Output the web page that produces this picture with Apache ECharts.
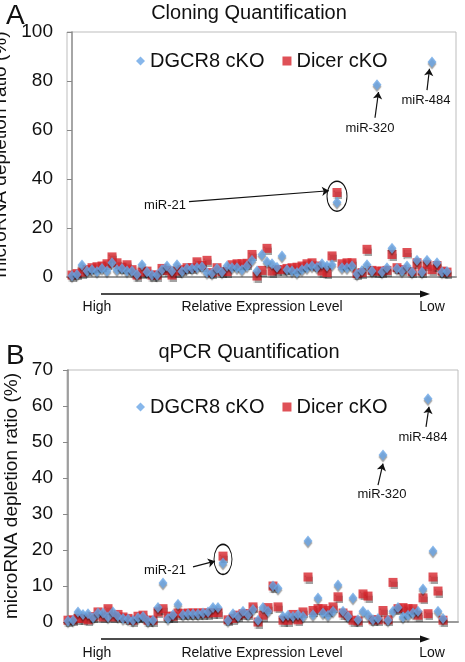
<!DOCTYPE html>
<html><head><meta charset="utf-8">
<script src="https://cdn.jsdelivr.net/npm/echarts@6/dist/echarts.min.js"></script>
<style>html,body{margin:0;padding:0;background:#fff}#c{width:465px;height:662px}</style>
</head><body><div id="c"></div>
<script>
// ---- Data ----
const seriesNames = ['DGCR8 cKO', 'Dicer cKO'];
const panelTitles = ['Cloning Quantification', 'qPCR Quantification'];
const yAxisTitle = 'microRNA depletion ratio (%)';
const xAxisWords = ['High', 'Relative Expression Level', 'Low'];

const cloningDGCR8 = [0.5,1.0,4.9,2.5,3,2.2,3.5,2.4,5.8,3,3.5,2.4,2.5,1.0,5,2.0,0.8,0.8,3,4.5,2.4,5,2.2,3.5,3.5,3.8,4.2,1.8,1.5,3.5,2.0,4.5,3.8,3.8,3,4.5,6.8,2.4,9.2,6.2,5.4,4.0,8.6,3.0,2.5,1.8,3,3.8,4.5,4.0,5.4,4.5,5,30.5,3.8,3.8,4.5,1.2,2.7,5,2.5,78.5,2.0,3.8,11.7,3.5,2.5,4.5,2.0,6.8,2.0,6.8,87.8,5.8,2.0,2.2];
const cloningDicer = [0.8,1.4,2.0,3,3.8,4.2,4.5,5.4,8.2,5.8,4,5,3,0.8,2,2.4,0.8,0.8,3.5,2.7,0.8,2.4,3.0,3.8,3.8,6.2,4.7,6.8,1.8,3.8,2.2,2.2,5,5.4,5.4,5.6,9.2,0.4,2.7,11.7,2.4,3.0,3,3.5,3.8,4,4.5,5.4,5.8,4.5,2.4,1.8,8.6,34.5,5.4,5.8,5.8,1.4,1.8,11.3,2.7,2.4,2.4,2.7,9.2,3.8,3,10,2.2,5.8,2.4,5,3,4.7,2.4,2.0];
const qpcrDGCR8 = [0.3,0.5,2.8,2.1,2.3,1.2,2.5,2.5,1.4,2.8,1.5,1.0,0.8,0.5,1.2,1.5,0.3,0.5,4.0,10.8,1.0,2.0,4.9,2.0,2.2,2.2,2.2,2.5,2.8,4.0,4.0,16.4,0.4,2.3,1.5,3.0,2.0,3.5,0.5,4.0,3.0,10.0,9.4,1.5,1.9,1.5,2.0,1.5,22.5,2.0,6.7,2.5,1.9,3.0,10.3,3.0,1.5,6.7,0.6,3.0,2.0,0.6,1.0,46.4,0.5,3.0,4.0,1.4,1.9,2.5,3.0,9.2,62.0,19.7,3.0,1.0];
const qpcrDicer = [0.5,0.6,1.0,1.0,0.6,1.5,2.8,1.4,3.7,1.4,2.1,1.4,1.0,0.5,1.6,1.9,0.5,0.5,2.8,3.7,1.6,1.6,2.5,2.3,2.5,2.5,2.5,2.5,2.5,2.6,2.6,18.3,0.6,1.0,1.9,2.3,2.3,4.2,0,1.9,4.0,10,4.2,0.5,0.5,2.1,0.6,2.8,12.5,3.2,3.7,3.7,3.2,4.2,7.0,2.5,1.9,0.5,0.3,7.8,7.2,0.6,0.6,3.2,0.6,11,3.7,4.0,3.7,3.7,1.9,6.7,2.3,12.5,8.6,0.5];

const yMaxA = 100, yStepA = 20;
const yMaxB = 70, yStepB = 10;

// ---- Build ----
const FONT = 'Liberation Sans, Arial, sans-serif';
const BLUE = '#69a5e6', RED = '#d7262d';
const toPts = arr => arr.map((v, i) => [i, v]);

const shadow = {shadowColor: 'rgba(0,0,0,0.45)', shadowBlur: 1, shadowOffsetY: 2};

function annotText(coord, text) {
  return {coord, symbol: 'circle', symbolSize: 1,
    itemStyle: {color: 'rgba(0,0,0,0)'},
    label: {show: true, position: 'inside', formatter: text, color: '#111', fontSize: 13, fontFamily: FONT}};
}
function annotEllipse(coord, size) {
  return {coord, symbol: 'circle', symbolSize: size,
    itemStyle: {color: 'rgba(0,0,0,0)', borderColor: '#111', borderWidth: 1.2},
    label: {show: false}};
}
function arrow(a, b) { return [{coord: a}, {coord: b}]; }

const markA = {
  markPoint: {silent: true, animation: false, data: [
    annotText([18.6, 29.4], 'miR-21'),
    annotEllipse([53, 33], [20, 30]),
    annotText([59.6, 60.8], 'miR-320'),
    annotText([70.8, 72.2], 'miR-484')
  ]},
  markLine: {silent: true, animation: false, symbol: ['none', 'arrow'], symbolSize: 7,
    lineStyle: {color: '#111', width: 1.2, type: 'solid'}, label: {show: false},
    data: [
      arrow([23.4, 30.8], [51.4, 35.2]),
      arrow([60.6, 65], [61.3, 75.5]),
      arrow([71.0, 76.3], [71.5, 85])
    ]}
};
const markB = {
  markPoint: {silent: true, animation: false, data: [
    annotText([19.4, 14.2], 'miR-21'),
    annotEllipse([31, 17.4], [18, 30]),
    annotText([62.8, 35.4], 'miR-320'),
    annotText([71, 51.4], 'miR-484')
  ]},
  markLine: {silent: true, animation: false, symbol: ['none', 'arrow'], symbolSize: 7,
    lineStyle: {color: '#111', width: 1.2, type: 'solid'}, label: {show: false},
    data: [
      arrow([25, 15.3], [29.4, 16.9]),
      arrow([62, 38], [63, 44]),
      arrow([71.6, 54.2], [72.2, 59.8])
    ]}
};

function yAxis(gi, max, step) {
  return {gridIndex: gi, type: 'value', min: 0, max, interval: step,
    name: yAxisTitle, nameLocation: 'middle', nameGap: 39,
    nameTextStyle: {fontSize: 19, color: '#111', fontFamily: FONT},
    axisLine: {show: true, lineStyle: {color: '#888', width: 1.5}},
    axisTick: {show: true, length: 5, lineStyle: {color: '#888'}},
    axisLabel: {fontSize: 19, color: '#111', fontFamily: FONT, margin: 14},
    splitLine: {show: false}};
}
function xAxis(gi, min, max) {
  return {gridIndex: gi, type: 'value', min, max,
    axisLine: {show: true, onZero: false, lineStyle: {color: '#9a9a9a', width: 2}},
    axisTick: {show: false}, axisLabel: {show: false}, splitLine: {show: false}};
}

function seriesFor(gi, blue, red, mark) {
  return [
    Object.assign({name: seriesNames[1], type: 'scatter', xAxisIndex: gi, yAxisIndex: gi,
      symbol: 'rect', symbolSize: 9, z: 2,
      itemStyle: Object.assign({color: RED}, shadow), data: toPts(red)}, mark),
    {name: seriesNames[0], type: 'scatter', xAxisIndex: gi, yAxisIndex: gi,
      symbol: 'diamond', symbolSize: [9, 11], z: 3,
      itemStyle: Object.assign({color: BLUE}, shadow), data: toPts(blue)}
  ];
}

function xCaption(yLine, yText) {
  return [
    {type: 'line', shape: {x1: 101, y1: yLine, x2: 424, y2: yLine}, style: {stroke: '#111', lineWidth: 1.3}},
    {type: 'polygon', shape: {points: [[430, yLine], [420, yLine - 3.5], [420, yLine + 3.5]]}, style: {fill: '#111'}},
    {type: 'text', x: 97, y: yText, style: {text: xAxisWords[0], fontSize: 14, fontFamily: FONT, fill: '#111', align: 'center', verticalAlign: 'middle'}},
    {type: 'text', x: 262, y: yText, style: {text: xAxisWords[1], fontSize: 14, fontFamily: FONT, fill: '#111', align: 'center', verticalAlign: 'middle'}},
    {type: 'text', x: 432, y: yText, style: {text: xAxisWords[2], fontSize: 14, fontFamily: FONT, fill: '#111', align: 'center', verticalAlign: 'middle'}}
  ];
}

const legendBase = {
  data: [{name: seriesNames[0], icon: 'diamond'}, {name: seriesNames[1], icon: 'rect'}],
  itemWidth: 9, itemHeight: 9, itemGap: 18,
  textStyle: {fontSize: 20, color: '#111', fontFamily: FONT}
};

const gridBase = {show: true, borderColor: '#bdbdbd', borderWidth: 1, backgroundColor: 'transparent',
  containLabel: false, outerBoundsMode: 'none'};

const option = {
  animation: false,
  backgroundColor: '#fff',
  title: [
    {text: panelTitles[0], left: 244, top: -2, textAlign: 'center', textStyle: {fontSize: 20, fontWeight: 'normal', color: '#111', fontFamily: FONT}},
    {text: panelTitles[1], left: 244, top: 337, textAlign: 'center', textStyle: {fontSize: 20, fontWeight: 'normal', color: '#111', fontFamily: FONT}},
    {text: 'A', left: 1, top: -3, textStyle: {fontSize: 28, fontWeight: 'normal', color: '#111', fontFamily: FONT}},
    {text: 'B', left: 1, top: 337, textStyle: {fontSize: 28, fontWeight: 'normal', color: '#111', fontFamily: FONT}}
  ],
  legend: [
    Object.assign({left: 131, top: 46}, legendBase),
    Object.assign({left: 131, top: 392}, legendBase)
  ],
  grid: [
    Object.assign({left: 67, top: 32, width: 389, height: 245}, gridBase),
    Object.assign({left: 67, top: 370, width: 391, height: 252}, gridBase)
  ],
  xAxis: [xAxis(0, -1, 76.8), xAxis(1, -0.2, 78)],
  yAxis: [yAxis(0, yMaxA, yStepA), yAxis(1, yMaxB, yStepB)],
  series: [].concat(seriesFor(0, cloningDGCR8, cloningDicer, markA), seriesFor(1, qpcrDGCR8, qpcrDicer, markB)),
  graphic: [].concat(xCaption(294, 307), xCaption(639, 653))
};

const chart = echarts.init(document.getElementById('c'), null, {renderer: 'canvas'});
chart.setOption(option);
</script>
</body></html>
